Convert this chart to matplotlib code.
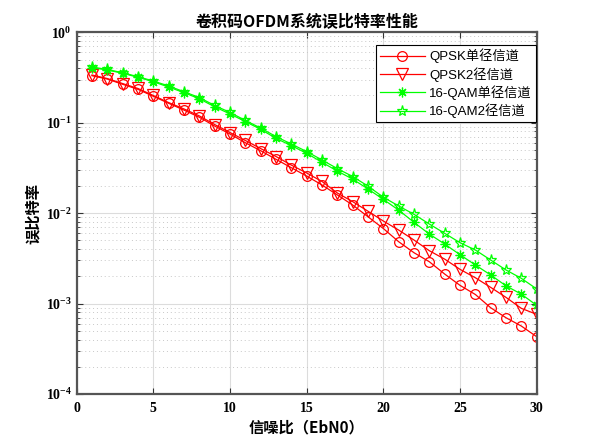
import matplotlib
matplotlib.use("Agg")
import matplotlib.pyplot as plt
from matplotlib.ticker import LogLocator, NullFormatter, FixedLocator

plt.rcParams['font.family'] = ['Liberation Sans', 'Noto Sans CJK SC', 'DejaVu Sans']

ebn0 = list(range(1, 31))
qpsk_single = [0.331, 0.304, 0.266, 0.234, 0.196, 0.164, 0.138, 0.115, 0.0919, 0.0750,
               0.0601, 0.0490, 0.0394, 0.0318, 0.0257, 0.0205, 0.0159, 0.0123, 0.00912, 0.00676,
               0.00483, 0.00365, 0.00290, 0.00212, 0.00159, 0.00126, 0.000899, 0.000697, 0.000564, 0.000430]
qpsk_2path = [0.337, 0.308, 0.271, 0.239, 0.200, 0.167, 0.142, 0.119, 0.0955, 0.0779,
              0.0636, 0.0518, 0.0423, 0.0340, 0.0278, 0.0224, 0.0167, 0.0134, 0.0105, 0.00818,
              0.00650, 0.00504, 0.00384, 0.00310, 0.00239, 0.00193, 0.00151, 0.00117, 0.000885, 0.000760]
qam_single = [0.406, 0.383, 0.352, 0.318, 0.284, 0.248, 0.215, 0.184, 0.150, 0.125,
              0.103, 0.0845, 0.0672, 0.0557, 0.0459, 0.0365, 0.0292, 0.0238, 0.0185, 0.0142,
              0.0108, 0.00791, 0.00587, 0.00455, 0.00347, 0.00267, 0.00207, 0.00157, 0.00127, 0.000955]
qam_2path = [0.413, 0.388, 0.357, 0.323, 0.289, 0.255, 0.220, 0.190, 0.155, 0.130,
             0.106, 0.0873, 0.0703, 0.0581, 0.0480, 0.0387, 0.0311, 0.0254, 0.0199, 0.0150,
             0.0120, 0.00970, 0.00757, 0.00598, 0.00471, 0.00391, 0.00303, 0.00235, 0.00190, 0.00145]

labels = ['QPSK单径信道', 'QPSK2径信道', '16-QAM单径信道', '16-QAM2径信道']
xticks = [0, 5, 10, 15, 20, 25, 30]

fig = plt.figure(figsize=(5.92, 4.44), dpi=100)
ax = fig.add_axes([0.1294, 0.1126, 0.7772, 0.8147])

red = '#ff0000'
green = '#00ff00'
ms = 7
ax.semilogy(ebn0, qpsk_single, '-', color=red, lw=0.9, marker='o', ms=ms, mfc='none', mew=0.9, label=labels[0])
ax.semilogy(ebn0, qpsk_2path, '-', color=red, lw=0.9, marker='v', ms=ms + 1, mfc='none', mew=0.9, label=labels[1])
ax.semilogy(ebn0, qam_single, '-', color=green, lw=0.9, marker=(8, 2, 0), ms=ms, mfc='none', mew=0.9, label=labels[2])
ax.semilogy(ebn0, qam_2path, '-', color=green, lw=0.9, marker='*', ms=ms + 1, mfc='none', mew=0.9, label=labels[3])

ax.set_xlim(0, 30)
ax.set_ylim(1e-4, 1)
ax.xaxis.set_major_locator(FixedLocator(xticks))
ax.yaxis.set_major_locator(LogLocator(base=10, numticks=10))
ax.yaxis.set_minor_locator(LogLocator(base=10, subs=range(2, 10), numticks=10))
ax.yaxis.set_minor_formatter(NullFormatter())

ax.grid(True, which='major', color='#dcdcdc', lw=0.8, ls='-')
ax.grid(True, which='minor', axis='y', color='#c8c8c8', lw=0.7, ls=(0, (1, 3)))
ax.set_axisbelow(True)

for s in ax.spines.values():
    s.set_color('#555555')
    s.set_linewidth(1.6)
ax.tick_params(which='both', direction='in', top=True, right=True, colors='#333333')
ax.tick_params(which='major', length=4, width=0.8, labelsize=10, labelcolor='black')
ax.tick_params(axis='x', which='major', pad=6)
ax.tick_params(which='minor', length=2.5, width=0.6)
for lab in ax.get_xticklabels() + ax.get_yticklabels():
    lab.set_fontfamily('Liberation Serif')
    lab.set_fontweight('bold')

ax.set_title('卷积码OFDM系统误比特率性能', fontsize=11.5, fontweight='bold',
             family=['Noto Sans CJK SC', 'DejaVu Sans'], pad=4)
ax.set_xlabel('信噪比（EbN0）', fontsize=11, fontweight='bold',
              family=['Noto Sans CJK SC', 'DejaVu Sans'], labelpad=3)
ax.set_ylabel('误比特率', fontsize=11, fontweight='bold',
              family=['Noto Sans CJK SC', 'DejaVu Sans'], labelpad=3)

leg = ax.legend(loc='upper right', bbox_to_anchor=(0.9985, 0.966), borderaxespad=0,
                frameon=True, fancybox=False, edgecolor='black', framealpha=1,
                handlelength=3.4, borderpad=0.3, labelspacing=0.28, handletextpad=0.35,
                prop={'family': ['Liberation Sans', 'Noto Sans CJK SC'], 'size': 9.5})
leg.get_frame().set_linewidth(0.8)

fig.savefig('out.png', dpi=100, facecolor='white')
